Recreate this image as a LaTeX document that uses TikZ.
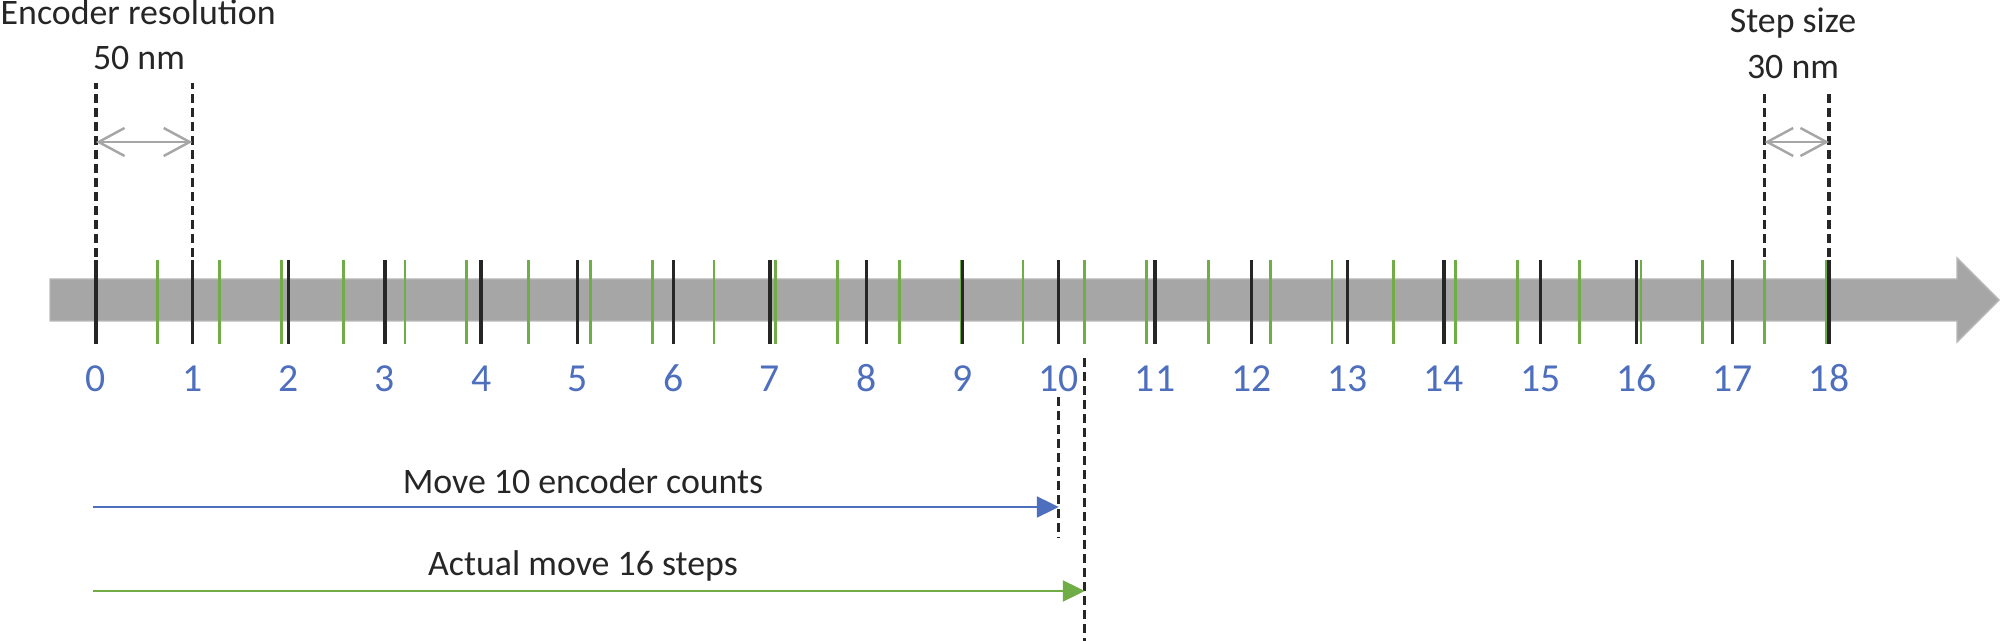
\documentclass[tikz,border=0pt]{standalone}
\usepackage{fontspec}
\setmainfont{Carlito}
\usepackage{tikz}
\usetikzlibrary{arrows.meta}

\definecolor{encblue}{HTML}{4E6EBE}
\definecolor{stepgreen}{HTML}{70AD47}
\definecolor{bargray}{HTML}{A6A6A6}
\definecolor{textgray}{HTML}{262626}

\begin{document}
\begin{tikzpicture}[
            every node/.style={inner sep=0pt, text=textgray, font=\fontsize{10.2}{12}\selectfont}, % Plain text labels
            enctick/.style={line width=0.95pt, draw=black!85}, % Encoder count marks
            steptick/.style={line width=0.8pt, draw=stepgreen}, % Motor step marks
            guide/.style={line width=0.95pt, dash pattern=on 0.09cm off 0.05cm, draw=black!85}, % Dashed guide lines
            span/.style={line width=0.7pt, draw=bargray, {Straight Barb[length=0.26cm,width=0.28cm]}-{Straight Barb[length=0.26cm,width=0.28cm]}},
            move/.style={line width=0.6pt, -{Triangle[length=0.22cm,width=0.21cm]}},
            count/.style={text=encblue, anchor=base, font=\fontsize{11.3}{13}\selectfont} % Encoder count numbers
            ]

                \useasboundingbox (-0.96,3.0) rectangle (19.04,-3.41);

                % Axis arrow
                \filldraw[fill=bargray, draw=bargray!80!white] (-0.46,0.21) -- (18.61,0.21) -- (18.61,0.42) -- (19.03,0)
                    -- (18.61,-0.42) -- (18.61,-0.21) -- (-0.46,-0.21) -- cycle;

                % Step marks, 30 nm apart
                \foreach \k in {1,...,28}{
                    \coordinate (s\k) at (\k*0.618,0);
                    \draw[steptick] ([yshift=0.40cm]s\k) -- ([yshift=-0.44cm]s\k);
                }

                % Encoder marks, 50 nm apart, with their numbers
                \foreach \i in {0,...,18}{
                    \coordinate (c\i) at (\i*0.9628,0);
                    \draw[enctick] ([yshift=0.40cm]c\i) -- ([yshift=-0.44cm]c\i);
                    \node[count] (n\i) at ([yshift=-0.92cm]c\i) {\i};
                }

                % Encoder resolution
                \node[anchor=base west] (encres) at (-0.96,2.75) {Encoder resolution};
                \node[anchor=base] (encval) at (0.43,2.30) {50 nm};
                \draw[guide] ([yshift=0.43cm]c0) -- ([yshift=2.17cm]c0);
                \draw[guide] ([yshift=0.43cm]c1) -- ([yshift=2.17cm]c1);
                \draw[span] ([yshift=1.58cm]c0) -- ([yshift=1.58cm]c1);

                % Step size
                \node[anchor=base] (stepsize) at (16.97,2.67) {Step size};
                \node[anchor=base] (stepval) at (16.97,2.21) {30 nm};
                \draw[guide] ([yshift=0.43cm]s27) -- ([yshift=2.08cm]s27);
                \draw[guide] ([yshift=0.43cm]c18) -- ([yshift=2.08cm]c18);
                \draw[span] ([yshift=1.58cm]s27) -- ([yshift=1.58cm]c18);

                % Moves
                \draw[guide] ([yshift=-0.97cm]c10) -- ([yshift=-2.38cm]c10);
                \draw[guide] ([yshift=-0.58cm]s16) -- ([yshift=-3.41cm]s16);
                \node[anchor=base] (movecnt) at (4.87,-1.94) {Move 10 encoder counts};
                \draw[move, encblue] ([xshift=-0.03cm,yshift=-2.07cm]c0) -- ([yshift=-2.07cm]c10);
                \node[anchor=base] (movestep) at (4.87,-2.76) {Actual move 16 steps};
                \draw[move, stepgreen] ([xshift=-0.03cm,yshift=-2.91cm]c0) -- ([yshift=-2.91cm]s16);

            \end{tikzpicture}
\end{document}
